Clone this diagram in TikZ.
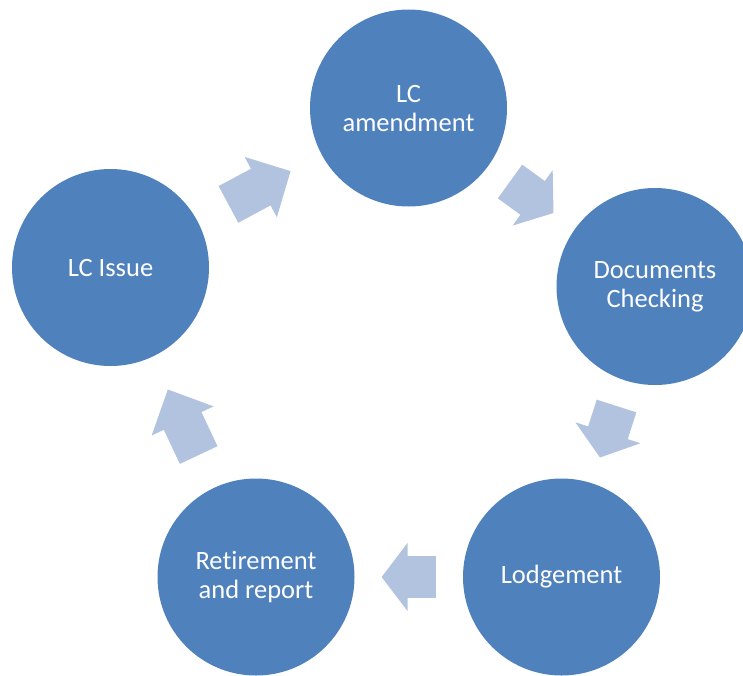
\documentclass[tikz,border=0pt]{standalone}
\usepackage{fontspec}
\setmainfont[Ligatures=NoCommon]{Carlito}
\usetikzlibrary{calc}
\definecolor{circblue}{HTML}{4F81BD}
\definecolor{arrowblue}{RGB}{178,195,223}
\newcommand{\cyclearrow}[2]{%
\fill[arrowblue] let \p1=(#1.center), \p2=(#2.center),
  \n1={atan2(\y2-\y1,\x2-\x1)},
  \n2={0.25*(veclen(\x2-\x1,\y2-\y1)-197pt)},
  \n3={0.01*(veclen(\x2-\x1,\y2-\y1)-197pt)},
  \p3=($(\p1)!0.5!(\p2)$) in
  ($(\p3)+(\n1+180:\n2)+(\n1+90:20.8pt)$) --
  ($(\p3)+(\n1:\n3)+(\n1+90:20.8pt)$) --
  ($(\p3)+(\n1:\n3)+(\n1+90:34.2pt)$) --
  ($(\p3)+(\n1:\n2)$) --
  ($(\p3)+(\n1:\n3)+(\n1-90:34.2pt)$) --
  ($(\p3)+(\n1:\n3)+(\n1-90:20.8pt)$) --
  ($(\p3)+(\n1+180:\n2)+(\n1-90:20.8pt)$) -- cycle;}
\begin{document}
\begin{tikzpicture}[x=1pt,y=-1pt,
  stage/.style={circle, fill=circblue, minimum size=197pt, inner sep=0pt,
    text=white, font=\fontsize{26.5}{29}\selectfont, align=center}]
\clip (0,0) rectangle (743,675);
\node[stage] (issue)  at (110.5,267.5) {LC Issue};
\node[stage] (amend)  at (408.5,108)   {LC\\amendment};
\node[stage] (docs)   at (655,286.5)   {Documents\\Checking};
\node[stage] (lodge)  at (561.5,577)   {Lodgement};
\node[stage] (retire) at (256,577)     {Retirement\\and report};
\cyclearrow{issue}{amend}
\cyclearrow{amend}{docs}
\cyclearrow{docs}{lodge}
\cyclearrow{lodge}{retire}
\cyclearrow{retire}{issue}
\end{tikzpicture}
\end{document}
